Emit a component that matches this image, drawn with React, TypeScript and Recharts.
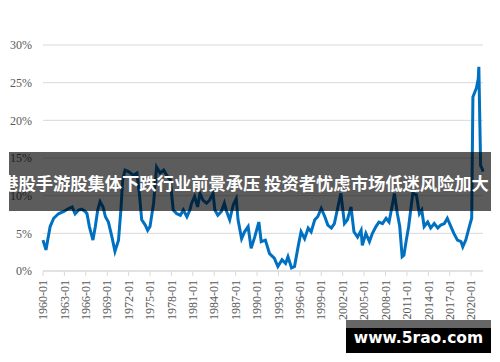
import React from "react";
import { LineChart, Line, XAxis, YAxis, CartesianGrid } from "recharts";

const dates: string[] = [
  "1960-01","1960-06","1961-01","1961-07","1962-03","1962-12","1963-08","1964-02","1964-07","1965-01",
  "1965-06","1965-12","1966-03","1966-07","1967-01","1967-05","1967-09","1968-01","1968-06","1968-10",
  "1969-03","1969-09","1970-02","1970-08","1970-12","1971-03","1971-07","1972-01","1972-09","1973-03",
  "1973-07","1973-11","1974-05","1974-09","1975-01","1975-07","1975-12","1976-06","1976-12","1977-05",
  "1977-11","1978-04","1978-10","1979-04","1979-09","1980-03","1980-08","1980-11","1981-04","1981-09",
  "1982-01","1982-06","1982-12","1983-05","1983-11","1984-02","1984-07","1985-01","1985-06","1985-09",
  "1986-03","1986-09","1987-02","1987-05","1987-11","1988-04","1988-10","1989-03","1989-09","1990-04",
  "1990-08","1991-03","1991-10","1992-06","1992-12","1993-07","1994-01","1994-05","1994-11","1995-04",
  "1995-10","1996-03","1996-09","1997-03","1997-08","1998-02","1998-07","1999-01","1999-07","1999-12",
  "2000-06","2000-11","2001-05","2001-10","2002-04","2002-09","2003-03","2003-08","2004-02","2004-08",
  "2004-10","2005-04","2005-10","2006-03","2006-09","2007-02","2007-08","2008-02","2008-07","2009-01",
  "2009-04","2009-09","2010-01","2010-05","2010-08","2010-12","2011-04","2011-08","2011-11","2012-05",
  "2012-10","2013-02","2013-06","2013-12","2014-05","2014-11","2015-05","2015-10","2016-04","2016-09",
  "2017-03","2017-08","2018-02","2018-08","2018-11","2019-04","2019-10","2020-02","2020-04","2020-10",
  "2021-01","2021-02","2021-05","2021-08","2021-09",
];

const rates: number[] = [
  4.1, 2.8, 5.9, 7.0, 7.6, 7.9, 8.3, 8.5, 7.6, 8.1,
  8.2, 7.9, 7.6, 5.9, 4.1, 5.9, 8.1, 9.2, 8.5, 7.2,
  6.5, 4.5, 2.6, 4.1, 8.1, 12.1, 13.4, 13.2, 12.7, 13.0,
  10.3, 6.8, 6.1, 5.4, 5.9, 9.0, 13.8, 13.0, 13.4, 12.7,
  12.1, 8.1, 7.6, 7.4, 8.1, 7.2, 8.1, 9.0, 9.9, 8.5,
  10.3, 9.4, 9.0, 9.4, 10.3, 8.1, 7.4, 7.9, 9.0, 8.1,
  6.8, 8.8, 9.6, 6.8, 4.3, 5.2, 5.9, 3.0, 4.5, 6.5,
  3.9, 4.1, 2.3, 1.7, 0.6, 1.5, 1.0, 1.9, 0.4, 0.6,
  3.2, 5.2, 4.3, 5.7, 5.2, 6.8, 7.2, 8.3, 7.2, 6.1,
  5.7, 6.3, 8.5, 10.3, 6.3, 6.8, 8.5, 5.2, 4.5, 5.4,
  3.4, 5.0, 3.9, 5.0, 5.9, 6.5, 6.3, 7.0, 6.5, 9.0,
  10.3, 7.6, 5.9, 1.9, 2.1, 4.1, 5.9, 8.5, 10.3, 10.1,
  7.6, 8.1, 5.9, 6.5, 5.7, 6.3, 5.7, 6.1, 6.3, 7.0,
  5.9, 5.0, 4.1, 3.9, 3.2, 4.1, 5.9, 7.0, 23.1, 24.3,
  25.5, 27.1, 14.0, 13.5, 13.2,
];

const tickLabels: string[] = [
  "1960-01","1963-01","1966-01","1969-01","1972-01","1975-01","1978-01","1981-01","1984-01","1987-01",
  "1990-01","1993-01","1996-01","1999-01","2002-01","2005-01","2008-01","2011-01","2014-01","2017-01",
  "2020-01",
];

const yTicks: number[] = [0, 5, 10, 15, 20, 25, 30];

const headline = "港股手游股集体下跌行业前景承压 投资者忧虑市场低迷风险加大";
const watermark = "www.5rao.com";

const toMonth = (d: string) => {
  const [y, m] = d.split("-").map(Number);
  return (y - 1960) * 12 + (m - 1);
};

const data = dates.map((d, i) => ({ m: toMonth(d), v: rates[i] }));
const xTicks = tickLabels.map(toMonth);
const labelFor = (m: number) => tickLabels[xTicks.indexOf(m)] ?? "";

const AXIS_FONT = "'Liberation Serif', 'Times New Roman', serif";

const RotTick = (props: any) => {
  const { x, y, payload } = props;
  return (
    <g transform={`translate(${x},${y})`}>
      <text
        transform="rotate(-90)"
        textAnchor="end"
        dy="0.35em"
        fill="#595959"
        fontSize={12}
        fontFamily={AXIS_FONT}
      >
        {labelFor(payload.value)}
      </text>
    </g>
  );
};

export default function App() {
  return (
    <div style={{ position: "absolute", left: 0, top: 0, width: 500, height: 362, background: "#fff", overflow: "hidden" }}>
      <LineChart width={500} height={362} data={data} margin={{ top: 45, right: 17, bottom: 31, left: 1 }}>
        <CartesianGrid vertical={false} stroke="#d9d9d9" strokeWidth={1} />
        <XAxis
          dataKey="m"
          type="number"
          domain={[0, 740]}
          ticks={xTicks}
          interval={0}
          height={60}
          tick={RotTick}
          tickSize={5}
          tickMargin={4}
          axisLine={{ stroke: "#d9d9d9" }}
          tickLine={{ stroke: "#d9d9d9" }}
        />
        <YAxis
          type="number"
          domain={[0, 30]}
          ticks={yTicks}
          width={42}
          tickFormatter={(v: number) => `${v}%`}
          axisLine={false}
          tickLine={false}
          tickSize={6}
          tickMargin={5}
          tick={{ fill: "#595959", fontSize: 12, fontFamily: AXIS_FONT }}
        />
        <Line
          type="linear"
          dataKey="v"
          stroke="#0070C0"
          strokeWidth={3}
          dot={false}
          isAnimationActive={false}
        />
      </LineChart>
      <div
        style={{
          position: "absolute",
          left: 9,
          top: 152,
          width: 482,
          height: 59,
          background: "rgba(0,0,0,0.64)",
        }}
      />
      <div
        style={{
          position: "absolute",
          left: 0,
          top: 171,
          width: 490,
          height: 24,
          lineHeight: "24px",
          textAlign: "center",
          whiteSpace: "nowrap",
          color: "#fff",
          fontSize: 17.3,
          fontWeight: 700,
          fontFamily: "'Noto Sans CJK SC', sans-serif",
        }}
      >
        {headline}
      </div>
      <div style={{ position: "absolute", left: 346, top: 320, width: 145, height: 8, background: "#666" }} />
      <div
        style={{
          position: "absolute",
          left: 346,
          top: 328,
          width: 145,
          height: 25,
          background: "#000",
          color: "#fff",
          fontFamily: "'DejaVu Sans', sans-serif",
          fontWeight: 700,
          fontSize: 15.5,
          lineHeight: "20px",
          textAlign: "center",
          whiteSpace: "nowrap",
        }}
      >
        {watermark}
      </div>
    </div>
  );
}
